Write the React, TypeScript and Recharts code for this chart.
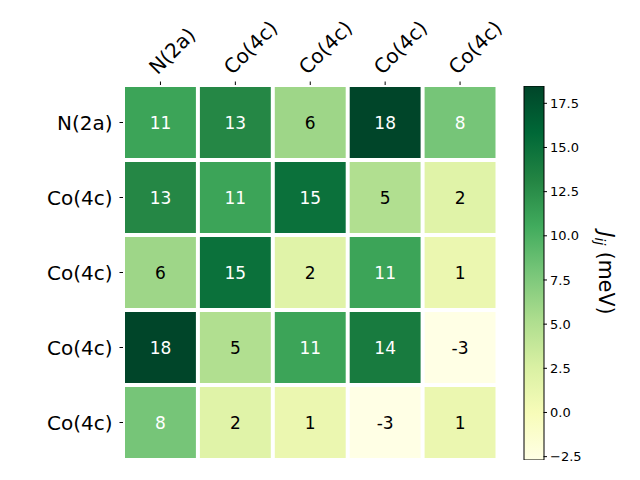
import React from 'react'
import { ScatterChart, Scatter, XAxis, YAxis, BarChart, Bar } from 'recharts'

// site labels, same order on both axes
const SITES = ['N(2a)', 'Co(4c)', 'Co(4c)', 'Co(4c)', 'Co(4c)']

// exchange couplings J_ij in meV (symmetric), one row per site
const ROW_0 = [11, 13, 6, 18.48, 8]
const ROW_1 = [13, 11, 15, 5, 2]
const ROW_2 = [6, 15, 2, 11, 1]
const ROW_3 = [18.48, 5, 11, 14, -2.69]
const ROW_4 = [8, 2, 1, -2.69, 1]
const ROWS = [ROW_0, ROW_1, ROW_2, ROW_3, ROW_4]

const V_MIN = -2.69
const V_MAX = 18.48
const CBAR_TICKS = [-2.5, 0, 2.5, 5, 7.5, 10, 12.5, 15, 17.5]

// matplotlib YlGn
const YLGN = ['#ffffe5', '#f7fcb9', '#d9f0a3', '#addd8e', '#78c679', '#41ab5d', '#238443', '#006837', '#004529']

const FONT = '"DejaVu Sans", sans-serif'

// plot box of the heatmap
const HM_LEFT = 123
const HM_RIGHT = 497.5
const HM_TOP = 85
const HM_BOTTOM = 460
const CELL_W = (HM_RIGHT - HM_LEFT) / 5
const CELL_H = (HM_BOTTOM - HM_TOP) / 5
const GAP = 4

const Y_AXIS_W = 100
const X_AXIS_H = 60

// colorbar box
const CB_LEFT = 524
const CB_RIGHT = 543.5
const CB_AXIS_W = 60

function hexToRgb(h: string) {
    return [1, 3, 5].map((i) => parseInt(h.slice(i, i + 2), 16))
}

function ylgn(v: number) {
    let t = (v - V_MIN) / (V_MAX - V_MIN)
    t = Math.max(0, Math.min(1, t))
    const pos = t * (YLGN.length - 1)
    const i = Math.min(Math.floor(pos), YLGN.length - 2)
    const f = pos - i
    const a = hexToRgb(YLGN[i])
    const b = hexToRgb(YLGN[i + 1])
    const c = a.map((x, k) => Math.round(x + (b[k] - x) * f))
    return `rgb(${c[0]},${c[1]},${c[2]})`
}

const cells = ROWS.flatMap((row, r) => row.map((v, c) => ({ x: c, y: r, v })))

function HeatCell(props: any) {
    const { cx, cy, payload } = props
    if (cx == null || cy == null) return null
    const v = payload.v as number
    const light = (v - V_MIN) / (V_MAX - V_MIN) > 0.5
    return (
        <g>
            <rect
                x={cx - CELL_W / 2 + GAP / 2}
                y={cy - CELL_H / 2 + GAP / 2}
                width={CELL_W - GAP}
                height={CELL_H - GAP}
                fill={ylgn(v)}
            />
            <text
                x={cx}
                y={cy}
                dy="0.36em"
                textAnchor="middle"
                fontSize={17}
                fontFamily={FONT}
                fill={light ? '#ffffff' : '#000000'}
            >
                {Math.round(v)}
            </text>
        </g>
    )
}

function TopTick(props: any) {
    const { x, y, payload } = props
    const ax = x - 3
    const ay = y - 3
    return (
        <text
            x={ax}
            y={ay}
            textAnchor="start"
            fontSize={20}
            fontFamily={FONT}
            fill="#000"
            transform={`rotate(-45, ${ax}, ${ay})`}
        >
            {SITES[payload.value]}
        </text>
    )
}

function LeftTick(props: any) {
    const { x, y, payload } = props
    return (
        <text x={x} y={y} dy="0.36em" textAnchor="end" fontSize={20} fontFamily={FONT} fill="#000">
            {SITES[payload.value]}
        </text>
    )
}

function CbarTick(props: any) {
    const { x, y, payload } = props
    const v = payload.value as number
    const s = v < 0 ? '\u2212' + Math.abs(v).toFixed(1) : v.toFixed(1)
    return (
        <text x={x} y={y} dy="0.36em" textAnchor="start" fontSize={13} fontFamily={FONT} fill="#000">
            {s}
        </text>
    )
}

function CbarLabel() {
    const cx = 606
    const cy = 273
    return (
        <text
            x={cx}
            y={cy}
            dy="0.36em"
            textAnchor="middle"
            fontSize={20.5}
            fontFamily={FONT}
            fill="#000"
            transform={`rotate(90, ${cx}, ${cy})`}
        >
            <tspan fontStyle="italic">J</tspan>
            <tspan fontStyle="italic" fontSize={14} dy={4}>ij</tspan>
            <tspan dy={-4}> (meV)</tspan>
        </text>
    )
}

const cbarData = [{ name: 'cb', range: [V_MIN, V_MAX] }]

export default function App() {
    return (
        <div style={{ position: 'absolute', left: 0, top: 0, width: 640, height: 480, background: '#fff' }}>
            <div style={{ position: 'absolute', left: 0, top: 0 }}>
                <ScatterChart
                    width={640}
                    height={480}
                    margin={{
                        top: HM_TOP - X_AXIS_H,
                        left: HM_LEFT - Y_AXIS_W,
                        right: 640 - HM_RIGHT,
                        bottom: 480 - HM_BOTTOM,
                    }}
                >
                    <XAxis
                        type="number"
                        dataKey="x"
                        orientation="top"
                        domain={[-0.5, 4.5]}
                        ticks={[0, 1, 2, 3, 4]}
                        interval={0}
                        height={X_AXIS_H}
                        axisLine={false}
                        tickLine={{ stroke: '#000' }}
                        tickSize={3.5}
                        tickMargin={3}
                        tick={<TopTick />}
                        allowDataOverflow
                    />
                    <YAxis
                        type="number"
                        dataKey="y"
                        reversed
                        domain={[-0.5, 4.5]}
                        ticks={[0, 1, 2, 3, 4]}
                        interval={0}
                        width={Y_AXIS_W}
                        axisLine={false}
                        tickLine={{ stroke: '#000' }}
                        tickSize={3.5}
                        tickMargin={7}
                        tick={<LeftTick />}
                        allowDataOverflow
                    />
                    <Scatter data={cells} shape={<HeatCell />} isAnimationActive={false} />
                </ScatterChart>
            </div>
            <div style={{ position: 'absolute', left: 0, top: 0 }}>
                <BarChart
                    width={640}
                    height={480}
                    data={cbarData}
                    barCategoryGap={0}
                    margin={{ top: HM_TOP + 1, left: CB_LEFT, right: 640 - CB_RIGHT - CB_AXIS_W, bottom: 480 - HM_BOTTOM }}
                >
                    <defs>
                        <linearGradient id="ylgn" x1="0" y1="1" x2="0" y2="0">
                            {YLGN.map((c, i) => (
                                <stop key={i} offset={i / (YLGN.length - 1)} stopColor={c} />
                            ))}
                        </linearGradient>
                    </defs>
                    <XAxis dataKey="name" hide />
                    <YAxis
                        orientation="right"
                        type="number"
                        domain={[V_MIN, V_MAX]}
                        ticks={CBAR_TICKS}
                        interval={0}
                        width={CB_AXIS_W}
                        axisLine={false}
                        tickLine={{ stroke: '#000' }}
                        tickSize={3.5}
                        tickMargin={3}
                        tick={<CbarTick />}
                        allowDataOverflow
                        label={<CbarLabel />}
                    />
                    <Bar dataKey="range" fill="url(#ylgn)" stroke="#000" strokeWidth={1} isAnimationActive={false} />
                </BarChart>
            </div>
        </div>
    )
}
